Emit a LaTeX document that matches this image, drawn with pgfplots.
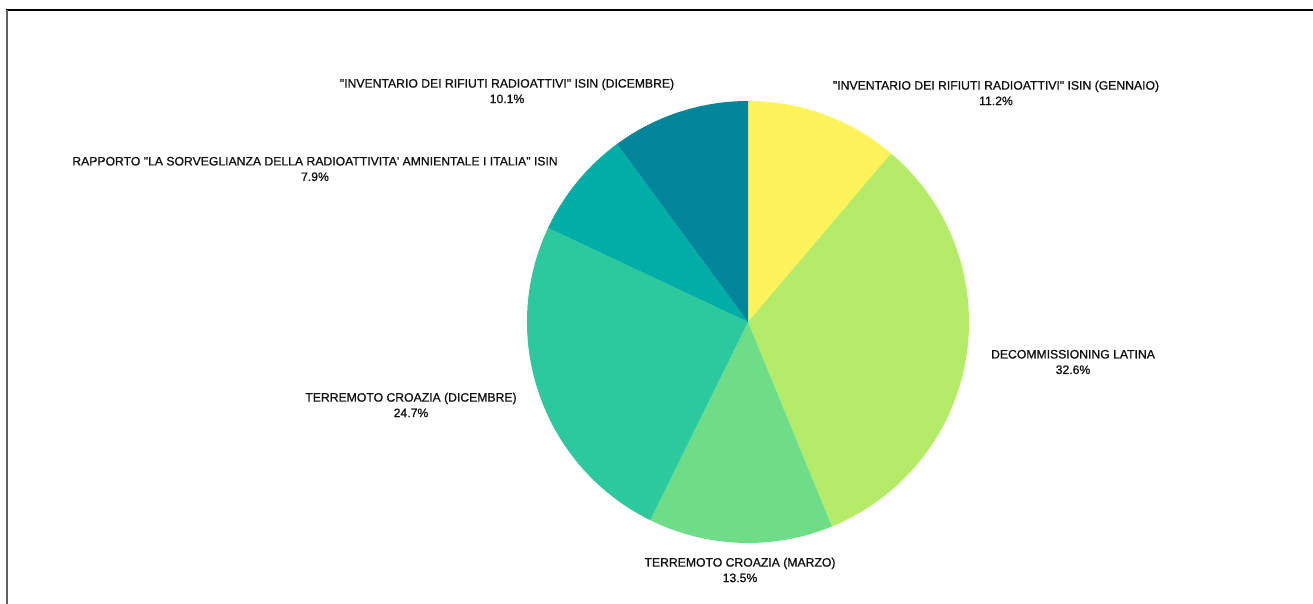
\documentclass[border=0pt]{standalone}
\usepackage{pgfplots}
\pgfplotsset{compat=1.18}
\usepackage{fontspec}
\setmainfont{Liberation Sans}
\newfontfamily\labfont[FakeBold=0.9]{Liberation Sans}
\definecolor{pieA}{HTML}{FFF35C}
\definecolor{pieB}{HTML}{B4EC6A}
\definecolor{pieC}{HTML}{6FDC87}
\definecolor{pieD}{HTML}{2DC99E}
\definecolor{pieE}{HTML}{00AEA7}
\definecolor{pieF}{HTML}{00859B}
\definecolor{lbl}{HTML}{111111}
\newcommand{\q}{\char34\relax}
\newcommand{\ap}{\char39\relax}
\begin{document}
\begin{tikzpicture}
\useasboundingbox (0,0) rectangle (1313bp,604bp);
\begin{axis}[
  at={(0,0)}, anchor=south west,
  width=1313bp, height=604bp, scale only axis,
  xmin=0, xmax=1313, ymin=0, ymax=604,
  hide axis, clip=false,
]
% frame
\draw[line width=2.2bp, black] (axis cs:6,594) -- (axis cs:1313,594);
\draw[line width=2.2bp, black!62] (axis cs:7,594) -- (axis cs:7,0);
% pie slices (percentages), clockwise from 12 o'clock
\xdef\curangle{90}
\foreach \v/\c in {11.2/pieA, 32.6/pieB, 13.5/pieC, 24.7/pieD, 7.9/pieE, 10.1/pieF}{
  \pgfmathsetmacro\endangle{\curangle-3.6*\v}
  \edef\temp{\noexpand\fill[\c] (axis cs:748,282) -- ++(\curangle:221bp) arc[start angle=\curangle, end angle=\endangle, radius=221bp] -- cycle;}
  \temp
  \xdef\curangle{\endangle}
}
% labels
\tikzset{lab/.style={align=center, text=lbl, font=\labfont\fontsize{12.2bp}{15.5bp}\selectfont, inner sep=0pt}}
\node[lab] at (axis cs:507,513) {\q INVENTARIO DEI RIFIUTI RADIOATTIVI\q{} ISIN (DICEMBRE)\\10.1\%};
\node[lab] at (axis cs:996,511) {\q INVENTARIO DEI RIFIUTI RADIOATTIVI\q{} ISIN (GENNAIO)\\11.2\%};
\node[lab] at (axis cs:315,435) {RAPPORTO \q LA SORVEGLIANZA DELLA RADIOATTIVITA\ap{} AMNIENTALE I ITALIA\q{} ISIN\\7.9\%};
\node[lab] at (axis cs:411,199) {TERREMOTO CROAZIA (DICEMBRE)\\24.7\%};
\node[lab] at (axis cs:1073,242) {DECOMMISSIONING LATINA\\32.6\%};
\node[lab] at (axis cs:740,34) {TERREMOTO CROAZIA (MARZO)\\13.5\%};
\end{axis}
\end{tikzpicture}
\end{document}
